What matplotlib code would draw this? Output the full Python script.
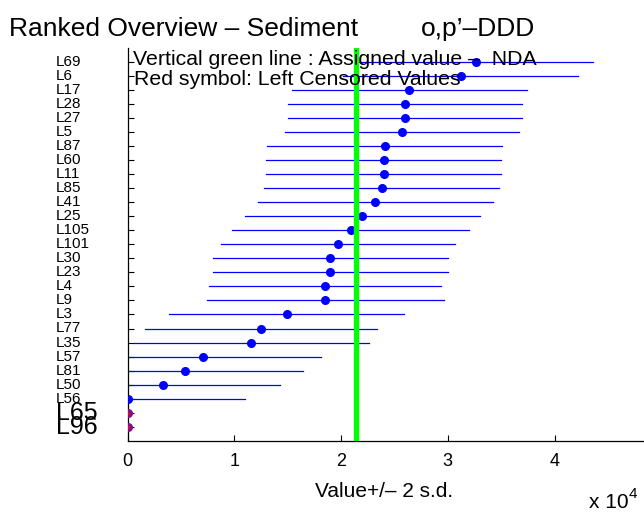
import numpy as np
import matplotlib
matplotlib.use('Agg')
import matplotlib.pyplot as plt
import matplotlib.transforms as mtransforms

plt.rcParams['font.family'] = ['Liberation Sans', 'DejaVu Sans']

# ---- data (values in units of 1e4) ----
labs = ['L69', 'L6', 'L17', 'L28', 'L27', 'L5', 'L87', 'L60', 'L11', 'L85',
        'L41', 'L25', 'L105', 'L101', 'L30', 'L23', 'L4', 'L9', 'L3', 'L77',
        'L35', 'L57', 'L81', 'L50', 'L56', 'L65', 'L96']
values = [3.26, 3.12, 2.64, 2.60, 2.60, 2.57, 2.41, 2.40, 2.40, 2.38,
          2.32, 2.20, 2.09, 1.97, 1.90, 1.90, 1.85, 1.85, 1.49, 1.25,
          1.16, 0.71, 0.54, 0.33, 0.00, 0.005, 0.005]
two_sd = [1.10, 1.10, 1.10, 1.10, 1.10, 1.10, 1.10, 1.10, 1.10, 1.10,
          1.10, 1.10, 1.11, 1.10, 1.10, 1.10, 1.09, 1.11, 1.10, 1.09,
          1.10, 1.10, 1.10, 1.10, 1.10, 0.00, 0.00]
censored = [False] * 25 + [True, True]
assigned = 2.14

W, H = 644, 512
fig = plt.figure(figsize=(W / 100, H / 100), dpi=100)
ax = fig.add_axes([127.7 / W, 1 - 440.7 / H, (5 * 106.7) / W, (440.7 - 48) / H])

rows = np.arange(1, len(labs) + 1)
for y, v, sd, cen in zip(rows, values, two_sd, censored):
    if cen:
        ax.plot(v, y, 'o', color='#8a0a8a', ms=5.5, zorder=4)
        ax.plot(v, y, '.', color='#d0103a', ms=2, zorder=5)
    else:
        ax.plot([v - sd, v + sd], [y, y], color='#0000ff', lw=0.9, zorder=2)
        ax.plot(v, y, 'o', color='#0000ff', ms=5.5, zorder=3)

ax.axvline(assigned, color='#00ff00', lw=3.8, zorder=6)

ax.set_xlim(0, 5)
ax.set_ylim(28, 0)
ax.set_xticks([0, 1, 2, 3, 4])
ax.set_xticklabels(['0', '1', '2', '3', '4'], fontsize=13)
ax.set_yticks(rows)
ax.set_yticklabels([])
ax.tick_params(direction='in', length=4, width=0.8, pad=9)
for s in ['top', 'right']:
    ax.spines[s].set_visible(False)
for s in ['left', 'bottom']:
    ax.spines[s].set_linewidth(0.9)

# lab labels, left aligned
trans = mtransforms.blended_transform_factory(fig.transFigure, ax.transData)
for y, lab, cen in zip(rows, labs, censored):
    ax.text(56 / W, y, lab, transform=trans, ha='left', va='center',
            fontsize=18 if cen else 11, clip_on=False)

fig.text(9 / W, 1 - 36 / H, 'Ranked Overview – Sediment', fontsize=19, va='baseline')
fig.text(421 / W, 1 - 36 / H, 'o,p’–DDD', fontsize=19, va='baseline')
fig.text(133 / W, 1 - 65 / H, 'Vertical green line : Assigned value –  NDA',
         fontsize=15.3, va='baseline', zorder=10)
fig.text(134 / W, 1 - 85 / H, 'Red symbol: Left Censored Values',
         fontsize=15.3, va='baseline', zorder=10)
fig.text(384 / W, 1 - 497 / H, 'Value+/– 2 s.d.', fontsize=15, ha='center', va='baseline')
fig.text(589 / W, 1 - 508 / H, 'x 10', fontsize=15, va='baseline')
fig.text(629 / W, 1 - 498 / H, '4', fontsize=11, va='baseline')

fig.savefig('out.png', dpi=100)
